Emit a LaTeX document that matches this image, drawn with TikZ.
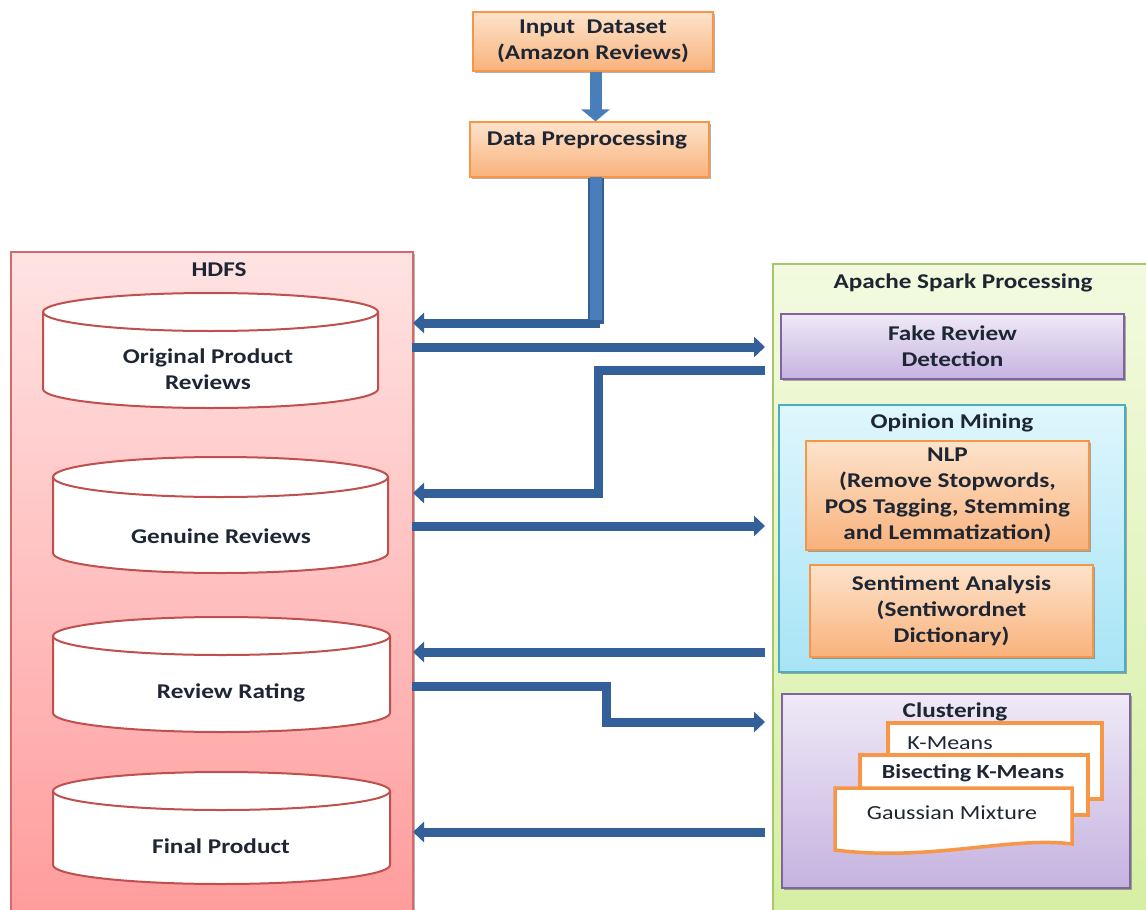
\documentclass[tikz,border=0pt]{standalone}
\usepackage{fontspec}
\setmainfont{Carlito}[FakeStretch=1.2]
\usetikzlibrary{arrows.meta,shadows}
\definecolor{txtc}{HTML}{1E2633}
\definecolor{arrc}{HTML}{34609A}
\definecolor{arrl}{HTML}{4A7EBB}
\definecolor{orgt}{HTML}{FDE3CB}
\definecolor{orgb}{HTML}{F9B27C}
\definecolor{orgd}{HTML}{F79646}
\definecolor{pnkt}{HTML}{FFE3E3}
\definecolor{pnkb}{HTML}{FF9C9C}
\definecolor{pnkd}{HTML}{D46A6A}
\definecolor{cyld}{HTML}{C0504D}
\definecolor{grnt}{HTML}{F3FADF}
\definecolor{grnb}{HTML}{D5EFA3}
\definecolor{grnd}{HTML}{A6C86B}
\definecolor{blut}{HTML}{DFF6FD}
\definecolor{blub}{HTML}{A7E4F6}
\definecolor{blud}{HTML}{4BACC6}
\definecolor{purt}{HTML}{EFE9F7}
\definecolor{purb}{HTML}{C5B3E0}
\definecolor{purd}{HTML}{8064A2}
\tikzset{
  txt/.style={font=\bfseries\fontsize{21}{26}\selectfont, text=txtc, align=center, inner sep=0pt},
  rtxt/.style={font=\fontsize{20}{24}\selectfont, text=txtc, align=center, inner sep=0pt},
  shad/.style={drop shadow={shadow xshift=2pt,shadow yshift=-2pt,opacity=0.3,fill=black}},
  obox/.style={shad, draw=orgd, line width=1.2pt, top color=orgt, bottom color=orgb, inner sep=0pt},
  pbox/.style={shad, draw=purd, line width=1.2pt, top color=purt, bottom color=purb, inner sep=0pt},
  cbox/.style={shad, draw=blud, line width=1.2pt, top color=blut, bottom color=blub, inner sep=0pt},
  conn/.style={draw=arrc, line width=9pt, -{Triangle[width=20pt,length=11pt]}},
  doc/.style={draw=orgd, line width=3.5pt, fill=white, inner sep=0pt},
}
\newcommand\dbcyl[5]{%
  \fill[white] (#1,#3) -- (#1,#4) arc[start angle=180,end angle=0,x radius={(#2-#1)/2},y radius=#5]
     -- (#2,#3) arc[start angle=0,end angle=-180,x radius={(#2-#1)/2},y radius=#5] -- cycle;
  \draw[cyld, line width=2pt] (#1,#3) -- (#1,#4) arc[start angle=180,end angle=0,x radius={(#2-#1)/2},y radius=#5] -- (#2,#3);
  \draw[cyld, line width=2pt] ({(#1+#2)/2},#3) ellipse [x radius={(#2-#1)/2}, y radius=#5];
}
\begin{document}
\begin{tikzpicture}[x=1pt,y=-1pt]
\useasboundingbox (0,0) rectangle (1146,910);
\fill[white] (0,0) rectangle (1146,910);

% containers
\node[shad, draw=pnkd, line width=1.2pt, top color=pnkt, bottom color=pnkb, minimum width=402pt, minimum height=663pt] (hdfs) at (212,583.5) {};
\node[txt] (hdfst) at (219,270) {HDFS};
\node[draw=grnd, line width=1.2pt, top color=grnt, bottom color=grnb, minimum width=377pt, minimum height=651pt] (spark) at (961.5,589.5) {};
\node[txt] (sparkt) at (963,283) {Apache Spark Processing};

% top flow
\node[obox, minimum width=240pt, minimum height=59pt, txt] (inp) at (593,41.5) {Input\ \ Dataset\\(Amazon Reviews)};
\node[obox, minimum width=239pt, minimum height=55pt] (dp) at (589.5,149.5) {};
\node[txt] (dpt) at (587,140) {Data Preprocessing};

% cylinders
\dbcyl{43}{378}{312}{389}{19}
\node[txt] (c1) at (208,369) {Original Product\\Reviews};
\dbcyl{53}{388}{477}{553}{20}
\node[txt] (c2) at (221,536) {Genuine Reviews};
\dbcyl{53}{390}{636}{713}{19}
\node[txt] (c3) at (231,693) {Review Rating};
\dbcyl{53}{390}{791}{865}{19}
\node[txt] (c4) at (221,846) {Final Product};

% spark inner boxes
\node[pbox, minimum width=343pt, minimum height=65pt, txt] (fake) at (952.5,346.5) {Fake Review\\Detection};
\node[cbox, minimum width=346pt, minimum height=267pt] (op) at (952,538.5) {};
\node[txt] (opt) at (952,423) {Opinion Mining};
\node[obox, minimum width=283pt, minimum height=109pt, txt] (nlp) at (947.5,495.5) {NLP\\(Remove Stopwords,\\POS Tagging, Stemming\\and Lemmatization)};
\node[obox, minimum width=283pt, minimum height=92pt, txt] (sent) at (951.5,611) {Sentiment Analysis\\(Sentiwordnet\\Dictionary)};
\node[pbox, minimum width=348pt, minimum height=194pt] (clu) at (956,791) {};
\node[txt] (clut) at (955,712) {Clustering};

% clustering documents
\node[doc, minimum width=214pt, minimum height=76pt] (km) at (995,761) {};
\node[rtxt] (kmt) at (950,743) {K-Means};
\node[doc, minimum width=228pt, minimum height=60pt] (bk) at (974,785) {};
\node[txt, font=\bfseries\fontsize{20}{24}\selectfont] (bkt) at (973,773) {Bisecting K-Means};
\draw[doc] (835,788) -- (1072,788) -- (1072,844) .. controls (1010,836) and (930,862) .. (835,850) -- cycle;
\node[rtxt] (gmt) at (952,813) {Gaussian Mixture};

% connector coordinates
\coordinate (r1) at (0,323);
\coordinate (r2) at (0,347);
\coordinate (r3) at (0,370);
\coordinate (r4) at (0,493);
\coordinate (r5) at (0,526);
\coordinate (r6) at (0,652);
\coordinate (r7) at (0,686);
\coordinate (r8) at (0,722);
\coordinate (r9) at (0,832);
\coordinate (m1) at (598,0);
\coordinate (m2) at (606,0);
\coordinate (le) at (413,0);
\coordinate (ri) at (765,0);
\coordinate (vx) at (595.5,0);

% connectors
\draw[draw=arrl, line width=12pt, -{Triangle[width=28pt,length=12pt]}] (vx |- inp.south) -- (vx |- dp.north);
\draw[conn] (vx |- dp.south) |- (le |- r1);
\draw[draw=arrc, line width=16pt] (vx |- dp.south) -- ([yshift=-1pt]vx |- r1);
\draw[draw=arrl, line width=12pt] ([yshift=1pt]vx |- dp.south) -- ([yshift=3pt]vx |- r1);
\draw[conn] ([xshift=-2pt]hdfs.east |- r2) -- (ri |- r2);
\draw[conn] (ri |- r3) -- (m1 |- r3) -- (m1 |- r4) -- (le |- r4);
\draw[conn] ([xshift=-2pt]hdfs.east |- r5) -- (ri |- r5);
\draw[conn] (ri |- r6) -- (le |- r6);
\draw[conn] ([xshift=-2pt]hdfs.east |- r7) -- (m2 |- r7) -- (m2 |- r8) -- (ri |- r8);
\draw[conn] (ri |- r9) -- (le |- r9);
\end{tikzpicture}
\end{document}
